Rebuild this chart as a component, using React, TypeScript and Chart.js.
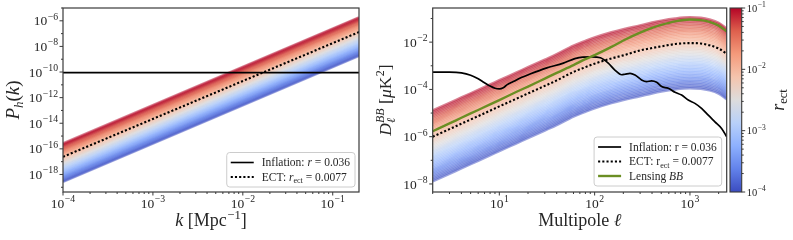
import React, { useEffect, useRef } from "react";
import { Chart, registerables } from "chart.js";
Chart.register(...registerables);

// ---------------- data ----------------
const R_ECT = [
  1.0e-4, 1.15e-4, 1.33e-4, 1.54e-4, 1.78e-4, 2.05e-4, 2.37e-4, 2.74e-4,
  3.16e-4, 3.65e-4, 4.22e-4, 4.87e-4, 5.62e-4, 6.49e-4, 7.5e-4, 8.66e-4,
  1.0e-3, 1.15e-3, 1.33e-3, 1.54e-3, 1.78e-3, 2.05e-3, 2.37e-3, 2.74e-3,
  3.16e-3, 3.65e-3, 4.22e-3, 4.87e-3, 5.62e-3, 6.49e-3, 7.5e-3, 8.66e-3,
  1.0e-2, 1.15e-2, 1.33e-2, 1.54e-2, 1.78e-2, 2.05e-2, 2.37e-2, 2.74e-2,
  3.16e-2, 3.65e-2, 4.22e-2, 4.87e-2, 5.62e-2, 6.49e-2, 7.5e-2, 8.66e-2,
  1.0e-1,
];
const R_TEMPLATE = 0.1;

// left panel: tensor power spectrum P_h(k)
const K_GRID = [1e-4, 0.196];
const PH_TEMPLATE = [2.63e-16, 1.82e-6]; // r_ect = 0.1
const PH_ECT = [2.4e-17, 1.32e-7]; // r_ect = 0.0077
const PH_INFLATION = [9.0e-11, 9.0e-11]; // r = 0.036

// right panel: D_ell^BB
const ELL = [2, 3, 4, 6, 8, 10, 15, 20, 30, 40, 60, 80, 100, 150, 200, 300, 400, 500, 700, 1000, 1300, 1600, 2000, 2430];
const DBB_TEMPLATE = [
  1.29e-5, 2.69e-5, 4.57e-5, 9.55e-5, 1.62e-4, 2.45e-4, 5.13e-4, 8.71e-4, 1.82e-3, 3.09e-3, 7.08e-3, 1.12e-2,
  1.58e-2, 2.63e-2, 3.55e-2, 5.13e-2, 6.76e-2, 8.13e-2, 0.1, 0.112, 0.107, 0.0912, 0.0661, 0.038,
];
const DBB_ECT = [
  1.0e-6, 2.09e-6, 3.55e-6, 7.41e-6, 1.26e-5, 1.91e-5, 3.98e-5, 6.76e-5, 1.41e-4, 2.4e-4, 5.5e-4, 8.71e-4,
  1.23e-3, 2.04e-3, 2.75e-3, 4.47e-3, 5.62e-3, 6.61e-3, 8.32e-3, 9.12e-3, 8.71e-3, 7.41e-3, 5.37e-3, 3.24e-3,
];
const DBB_LENSING = [
  1.7e-6, 3.63e-6, 6.31e-6, 1.35e-5, 2.34e-5, 3.55e-5, 7.76e-5, 1.32e-4, 2.88e-4, 5.01e-4, 1.07e-3, 1.91e-3,
  2.82e-3, 6.31e-3, 1.17e-2, 2.51e-2, 3.98e-2, 5.37e-2, 7.59e-2, 9.12e-2, 8.51e-2, 7.24e-2, 5.01e-2, 2.82e-2,
];
const ELL_INFL = [
  2, 3, 4, 5, 6, 7, 8, 9, 10, 11, 12, 14, 17, 21, 31, 47, 62, 75, 93, 115, 139, 163, 192, 208, 235, 265, 311,
  351, 396, 447, 505, 593, 697, 818, 960, 1127, 1324, 1556, 1828, 2148, 2430,
];
const DBB_INFLATION = [
  5.37e-4, 5.37e-4, 5.01e-4, 3.98e-4, 2.82e-4, 1.91e-4, 1.38e-4, 1.12e-4, 1.05e-4, 1.17e-4, 1.55e-4, 2.14e-4,
  3.16e-4, 4.47e-4, 7.94e-4, 1.29e-3, 2.0e-3, 2.34e-3, 2.4e-3, 2.19e-3, 1.29e-3, 6.61e-4, 4.17e-4, 4.37e-4,
  4.79e-4, 4.07e-4, 2.51e-4, 2.14e-4, 2.29e-4, 2.0e-4, 1.32e-4, 1.12e-4, 7.59e-5, 5.75e-5, 3.55e-5, 2.57e-5,
  1.58e-5, 8.13e-6, 4.27e-6, 2.24e-6, 1.0e-6,
];

// ticks
const LEFT_X_TICKS = [1e-4, 1e-3, 1e-2, 1e-1];
const LEFT_X_LABELS = ["−4", "−3", "−2", "−1"];
const LEFT_Y_TICKS = [1e-6, 1e-8, 1e-10, 1e-12, 1e-14, 1e-16, 1e-18];
const LEFT_Y_LABELS = ["−6", "−8", "−10", "−12", "−14", "−16", "−18"];
const RIGHT_X_TICKS = [10, 100, 1000];
const RIGHT_X_LABELS = ["1", "2", "3"];
const RIGHT_Y_TICKS = [1e-2, 1e-4, 1e-6, 1e-8];
const RIGHT_Y_LABELS = ["−2", "−4", "−6", "−8"];
const CB_TICKS = [1e-1, 1e-2, 1e-3, 1e-4];
const CB_LABELS = ["−1", "−2", "−3", "−4"];

// ---------------- style ----------------
const FONT = '"Liberation Serif", "DejaVu Serif", serif';
const INK = "#262626";
const FRAME = "#3a3a3a";
const MAJOR = 3.5;
const MINOR = 2;
const TICK_FS = 13.5;
const LEG_FS = 11.5;
const TITLE_FS = 18;
const GREEN = "#6b8e23";

const COOLWARM: number[][] = [
  [59, 76, 192], [98, 130, 234], [141, 176, 254], [184, 208, 249], [221, 220, 220],
  [245, 196, 173], [244, 154, 123], [222, 96, 77], [180, 4, 38],
];
function coolwarm(t: number, a: number) {
  const tt = Math.max(0, Math.min(1, t));
  const s = tt * 8;
  const i = Math.min(7, Math.floor(s));
  const f = s - i;
  const c0 = COOLWARM[i], c1 = COOLWARM[i + 1];
  const c = c0.map((v, k) => Math.round(v + (c1[k] - v) * f));
  return `rgba(${c[0]},${c[1]},${c[2]},${a})`;
}
const rNorm = (r: number) => (Math.log10(r) + 4) / 3;

type Part = { t: string; s: number; i?: boolean; dy?: number; dx?: number; stack?: boolean };
const fontOf = (s: number, i?: boolean) => `${i ? "italic " : ""}${s}px ${FONT}`;

function partsWidth(ctx: CanvasRenderingContext2D, parts: Part[]) {
  let w = 0, pending = 0;
  for (const p of parts) {
    ctx.font = fontOf(p.s, p.i);
    const pw = ctx.measureText(p.t).width + (p.dx || 0);
    if (p.stack) { pending = pw; continue; }
    w += Math.max(pw, pending);
    pending = 0;
  }
  return w + pending;
}
function drawParts(ctx: CanvasRenderingContext2D, parts: Part[], x: number, y: number, align: "left" | "center" | "right") {
  const w = partsWidth(ctx, parts);
  let cx = align === "left" ? x : align === "center" ? x - w / 2 : x - w;
  let pending = 0;
  ctx.textAlign = "left";
  ctx.textBaseline = "alphabetic";
  for (const p of parts) {
    ctx.font = fontOf(p.s, p.i);
    const pw = ctx.measureText(p.t).width + (p.dx || 0);
    ctx.fillText(p.t, cx + (p.dx || 0), y + (p.dy || 0));
    if (p.stack) { pending = pw; continue; }
    cx += Math.max(pw, pending);
    pending = 0;
  }
  return w;
}
const pow = (e: string, s: number): Part[] => [
  { t: "10", s },
  { t: e, s: s * 0.72, dy: -s * 0.42, dx: 0.5 },
];

function seg(ctx: CanvasRenderingContext2D, x0: number, y0: number, x1: number, y1: number) {
  ctx.beginPath();
  ctx.moveTo(x0, y0);
  ctx.lineTo(x1, y1);
  ctx.stroke();
}
function roundRect(ctx: CanvasRenderingContext2D, x: number, y: number, w: number, h: number, r: number) {
  ctx.beginPath();
  ctx.moveTo(x + r, y);
  ctx.arcTo(x + w, y, x + w, y + h, r);
  ctx.arcTo(x + w, y + h, x, y + h, r);
  ctx.arcTo(x, y + h, x, y, r);
  ctx.arcTo(x, y, x + w, y, r);
  ctx.closePath();
}

type LegEntry = { kind: "solid" | "dotted"; color: string; width: number; parts: Part[] };
function drawLegend(ctx: CanvasRenderingContext2D, right: number, bottom: number, entries: LegEntry[]) {
  const rowH = 14.5;
  let tw = 0;
  for (const e of entries) tw = Math.max(tw, partsWidth(ctx, e.parts));
  const w = 4 + 23 + 8 + tw + 5;
  const h = rowH * (entries.length - 1) + 20;
  const x0 = right - w, y0 = bottom - h;
  ctx.save();
  roundRect(ctx, x0, y0, w, h, 3);
  ctx.fillStyle = "rgba(255,255,255,0.85)";
  ctx.fill();
  ctx.strokeStyle = "#cccccc";
  ctx.lineWidth = 1;
  ctx.stroke();
  entries.forEach((e, k) => {
    const cy = y0 + 10 + k * rowH;
    ctx.strokeStyle = e.color;
    ctx.lineWidth = e.width;
    ctx.setLineDash(e.kind === "dotted" ? [2.1, 2.1] : []);
    seg(ctx, x0 + 4, cy, x0 + 27, cy);
    ctx.setLineDash([]);
    ctx.fillStyle = INK;
    drawParts(ctx, e.parts, x0 + 35, cy + LEG_FS * 0.33, "left");
  });
  ctx.restore();
}

function decadeMinors(min: number, max: number, e0: number, e1: number) {
  const out: number[] = [];
  for (let e = e0; e <= e1; e++) for (let m = 2; m <= 9; m++) {
    const v = m * Math.pow(10, e);
    if (v >= min * 0.9999 && v <= max * 1.0001) out.push(v);
  }
  return out;
}

// ---------------- plugins ----------------
const leftDecor = {
  id: "leftDecor",
  afterDraw(chart: any) {
    const ctx: CanvasRenderingContext2D = chart.ctx;
    const ca = chart.chartArea;
    const xs = chart.scales.x, ys = chart.scales.y;
    ctx.save();
    ctx.strokeStyle = FRAME;
    ctx.fillStyle = INK;
    ctx.lineWidth = 1;
    LEFT_X_TICKS.forEach((v, i) => {
      const px = xs.getPixelForValue(v);
      seg(ctx, px, ca.bottom, px, ca.bottom + MAJOR);
      drawParts(ctx, pow(LEFT_X_LABELS[i], TICK_FS), px, ca.bottom + 16, "center");
    });
    decadeMinors(xs.min, xs.max, -5, 0).forEach((v) => {
      const px = xs.getPixelForValue(v);
      seg(ctx, px, ca.bottom, px, ca.bottom + MINOR);
    });
    LEFT_Y_TICKS.forEach((v, i) => {
      const py = ys.getPixelForValue(v);
      seg(ctx, ca.left - MAJOR, py, ca.left, py);
      drawParts(ctx, pow(LEFT_Y_LABELS[i], TICK_FS), ca.left - MAJOR - 1.5, py + TICK_FS * 0.34, "right");
    });
    for (let e = -5; e >= -19; e -= 2) {
      const v = Math.pow(10, e);
      if (v < ys.min || v > ys.max * 1.001) continue;
      const py = ys.getPixelForValue(v);
      seg(ctx, ca.left - MINOR, py, ca.left, py);
    }
    ctx.lineWidth = 1.2;
    ctx.strokeRect(ca.left, ca.top, ca.right - ca.left, ca.bottom - ca.top);

    // titles
    ctx.fillStyle = INK;
    drawParts(ctx, [
      { t: "k", s: TITLE_FS, i: true },
      { t: " [Mpc", s: TITLE_FS },
      { t: "−1", s: TITLE_FS * 0.7, dy: -7.5, dx: 0.5 },
      { t: "]", s: TITLE_FS },
    ], (ca.left + ca.right) / 2, 226, "center");
    ctx.save();
    ctx.translate(19, (ca.top + ca.bottom) / 2);
    ctx.rotate(-Math.PI / 2);
    drawParts(ctx, [
      { t: "P", s: 19, i: true },
      { t: "h", s: 13, i: true, dy: 3.5 },
      { t: "(", s: 19 },
      { t: "k", s: 19, i: true },
      { t: ")", s: 19 },
    ], 0, 0, "center");
    ctx.restore();

    drawLegend(ctx, ca.right - 4, ca.bottom - 5, [
      { kind: "solid", color: "#000", width: 1.6, parts: [
        { t: "Inflation: ", s: LEG_FS }, { t: "r", s: LEG_FS, i: true }, { t: " = 0.036", s: LEG_FS },
      ] },
      { kind: "dotted", color: "#000", width: 2.1, parts: [
        { t: "ECT: ", s: LEG_FS }, { t: "r", s: LEG_FS, i: true }, { t: "ect", s: LEG_FS * 0.7, dy: 2.5 },
        { t: " = 0.0077", s: LEG_FS },
      ] },
    ]);
    ctx.restore();
  },
};

const rightDecor = {
  id: "rightDecor",
  afterDraw(chart: any) {
    const ctx: CanvasRenderingContext2D = chart.ctx;
    const ca = chart.chartArea;
    const xs = chart.scales.x, ys = chart.scales.y, cb = chart.scales.cb;
    ctx.save();
    ctx.strokeStyle = FRAME;
    ctx.fillStyle = INK;
    ctx.lineWidth = 1;
    RIGHT_X_TICKS.forEach((v, i) => {
      const px = xs.getPixelForValue(v);
      seg(ctx, px, ca.bottom, px, ca.bottom + MAJOR);
      drawParts(ctx, pow(RIGHT_X_LABELS[i], TICK_FS), px, ca.bottom + 16, "center");
    });
    decadeMinors(xs.min, xs.max, 0, 3).forEach((v) => {
      const px = xs.getPixelForValue(v);
      seg(ctx, px, ca.bottom, px, ca.bottom + MINOR);
    });
    RIGHT_Y_TICKS.forEach((v, i) => {
      const py = ys.getPixelForValue(v);
      seg(ctx, ca.left - MAJOR, py, ca.left, py);
      drawParts(ctx, pow(RIGHT_Y_LABELS[i], TICK_FS), ca.left - MAJOR - 1.5, py + TICK_FS * 0.34, "right");
    });
    for (let e = -1; e >= -9; e -= 2) {
      const v = Math.pow(10, e);
      if (v < ys.min || v > ys.max) continue;
      const py = ys.getPixelForValue(v);
      seg(ctx, ca.left - MINOR, py, ca.left, py);
    }
    ctx.lineWidth = 1.2;
    ctx.strokeRect(ca.left, ca.top, ca.right - ca.left, ca.bottom - ca.top);

    // colorbar
    const cx0 = ca.right + 3.3, cw = 11.7;
    const ctop = cb.getPixelForValue(1e-1), cbot = cb.getPixelForValue(1e-4);
    const g = ctx.createLinearGradient(0, cbot, 0, ctop);
    COOLWARM.forEach((c, k) => g.addColorStop(k / 8, `rgb(${c[0]},${c[1]},${c[2]})`));
    ctx.fillStyle = g;
    ctx.fillRect(cx0, ctop, cw, cbot - ctop);
    ctx.strokeStyle = FRAME;
    ctx.lineWidth = 1.1;
    ctx.strokeRect(cx0, ctop, cw, cbot - ctop);
    ctx.lineWidth = 1;
    ctx.fillStyle = INK;
    const cx1 = cx0 + cw;
    CB_TICKS.forEach((v, i) => {
      const py = cb.getPixelForValue(v);
      seg(ctx, cx1, py, cx1 + MAJOR, py);
      drawParts(ctx, pow(CB_LABELS[i], 10.5), cx1 + MAJOR + 1.5, py + 10.5 * 0.34, "left");
    });
    decadeMinors(1e-4, 1e-1, -4, -2).forEach((v) => {
      const py = cb.getPixelForValue(v);
      seg(ctx, cx1, py, cx1 + MINOR, py);
    });
    ctx.save();
    ctx.translate(cx1 + 42, (ctop + cbot) / 2);
    ctx.rotate(-Math.PI / 2);
    drawParts(ctx, [
      { t: "r", s: TITLE_FS, i: true },
      { t: "ect", s: TITLE_FS * 0.7, dy: 3.5 },
    ], 0, 0, "center");
    ctx.restore();

    // titles
    drawParts(ctx, [
      { t: "Multipole ", s: TITLE_FS },
      { t: "ℓ", s: TITLE_FS, i: true },
    ], (ca.left + ca.right) / 2, 226, "center");
    ctx.save();
    ctx.translate(31, (ca.top + ca.bottom) / 2);
    ctx.rotate(-Math.PI / 2);
    drawParts(ctx, [
      { t: "D", s: 17.5, i: true },
      { t: "ℓ", s: 12, i: true, dy: 4, stack: true },
      { t: "BB", s: 12, i: true, dy: -7.5 },
      { t: " [", s: 17.5 },
      { t: "μ", s: 17.5, i: true },
      { t: "K", s: 17.5 },
      { t: "2", s: 12, dy: -7.5, dx: 0.5 },
      { t: "]", s: 17.5 },
    ], 0, 0, "center");
    ctx.restore();

    drawLegend(ctx, ca.right - 5, ca.bottom - 6, [
      { kind: "solid", color: "#000", width: 1.7, parts: [{ t: "Inflation: r = 0.036", s: LEG_FS }] },
      { kind: "dotted", color: "#000", width: 2.1, parts: [
        { t: "ECT: r", s: LEG_FS }, { t: "ect", s: LEG_FS * 0.7, dy: 2.5 }, { t: " = 0.0077", s: LEG_FS },
      ] },
      { kind: "solid", color: GREEN, width: 2.4, parts: [
        { t: "Lensing ", s: LEG_FS }, { t: "BB", s: LEG_FS, i: true },
      ] },
    ]);
    ctx.restore();
  },
};

// ---------------- configs ----------------
const zip = (xs: number[], ys: number[]) => xs.map((x, i) => ({ x, y: ys[i] }));
const hiddenAxis = (extra: any) => ({
  type: "logarithmic",
  ticks: { display: false },
  grid: { display: false },
  border: { display: false },
  title: { display: false },
  ...extra,
});

function leftConfig(): any {
  const family = R_ECT.slice().reverse().map((r) => ({
    data: zip(K_GRID, PH_TEMPLATE.map((v) => (v * r) / R_TEMPLATE)),
    borderColor: coolwarm(rNorm(r), 0.5),
    borderWidth: 2.5,
    pointRadius: 0,
    fill: false,
    clip: 0,
  }));
  return {
    type: "line",
    data: {
      datasets: [
        { data: zip(K_GRID, PH_ECT), borderColor: "#000", borderWidth: 2.1, borderDash: [2.1, 2.1], pointRadius: 0, fill: false, clip: 0 },
        { data: zip(K_GRID, PH_INFLATION), borderColor: "#000", borderWidth: 1.6, pointRadius: 0, fill: false, clip: 0 },
        ...family,
      ],
    },
    options: {
      animation: false,
      responsive: false,
      devicePixelRatio: 1,
      events: [],
      layout: { padding: { left: 0, right: 41, top: 8, bottom: 0 } },
      plugins: { legend: { display: false }, tooltip: { enabled: false }, title: { display: false } },
      scales: {
        x: hiddenAxis({ min: 1e-4, max: 0.196, afterFit: (s: any) => { s.height = 48; } }),
        y: hiddenAxis({ min: 4.27e-20, max: 1e-5, afterFit: (s: any) => { s.width = 63; } }),
      },
    },
    plugins: [leftDecor],
  };
}

function rightConfig(): any {
  const family = R_ECT.slice().reverse().map((r) => ({
    data: zip(ELL, DBB_TEMPLATE.map((v) => (v * r) / R_TEMPLATE)),
    borderColor: coolwarm(rNorm(r), 0.5),
    borderWidth: 2.5,
    pointRadius: 0,
    fill: false,
    cubicInterpolationMode: "monotone",
    clip: 0,
  }));
  return {
    type: "line",
    data: {
      datasets: [
        { data: zip(ELL, DBB_LENSING), borderColor: GREEN, borderWidth: 2.4, pointRadius: 0, fill: false, cubicInterpolationMode: "monotone", clip: 0 },
        { data: zip(ELL_INFL, DBB_INFLATION), borderColor: "#000", borderWidth: 1.7, pointRadius: 0, fill: false, cubicInterpolationMode: "monotone", clip: 0 },
        { data: zip(ELL, DBB_ECT), borderColor: "#000", borderWidth: 2.1, borderDash: [2.1, 2.1], pointRadius: 0, fill: false, cubicInterpolationMode: "monotone", clip: 0 },
        ...family,
      ],
    },
    options: {
      animation: false,
      responsive: false,
      devicePixelRatio: 1,
      events: [],
      layout: { padding: { left: 0, right: 0, top: 8, bottom: 0 } },
      plugins: { legend: { display: false }, tooltip: { enabled: false }, title: { display: false } },
      scales: {
        x: hiddenAxis({ min: 2, max: 2430, afterFit: (s: any) => { s.height = 48; } }),
        y: hiddenAxis({ min: 4.57e-9, max: 0.278, afterFit: (s: any) => { s.width = 72.7; } }),
        cb: hiddenAxis({ position: "right", min: 1e-4, max: 1e-1, afterFit: (s: any) => { s.width = 66.3; } }),
      },
    },
    plugins: [rightDecor],
  };
}

export default function App() {
  const leftRef = useRef<HTMLCanvasElement>(null);
  const rightRef = useRef<HTMLCanvasElement>(null);
  useEffect(() => {
    const c1 = new Chart(leftRef.current as HTMLCanvasElement, leftConfig());
    const c2 = new Chart(rightRef.current as HTMLCanvasElement, rightConfig());
    return () => {
      c1.destroy();
      c2.destroy();
    };
  }, []);
  return (
    <div style={{ position: "fixed", left: 0, top: 0, width: 793, height: 240, background: "#ffffff", overflow: "hidden" }}>
      <canvas ref={leftRef} width={400} height={240} style={{ position: "absolute", left: 0, top: 0, width: 400, height: 240 }} />
      <canvas ref={rightRef} width={433} height={240} style={{ position: "absolute", left: 360, top: 0, width: 433, height: 240 }} />
    </div>
  );
}
